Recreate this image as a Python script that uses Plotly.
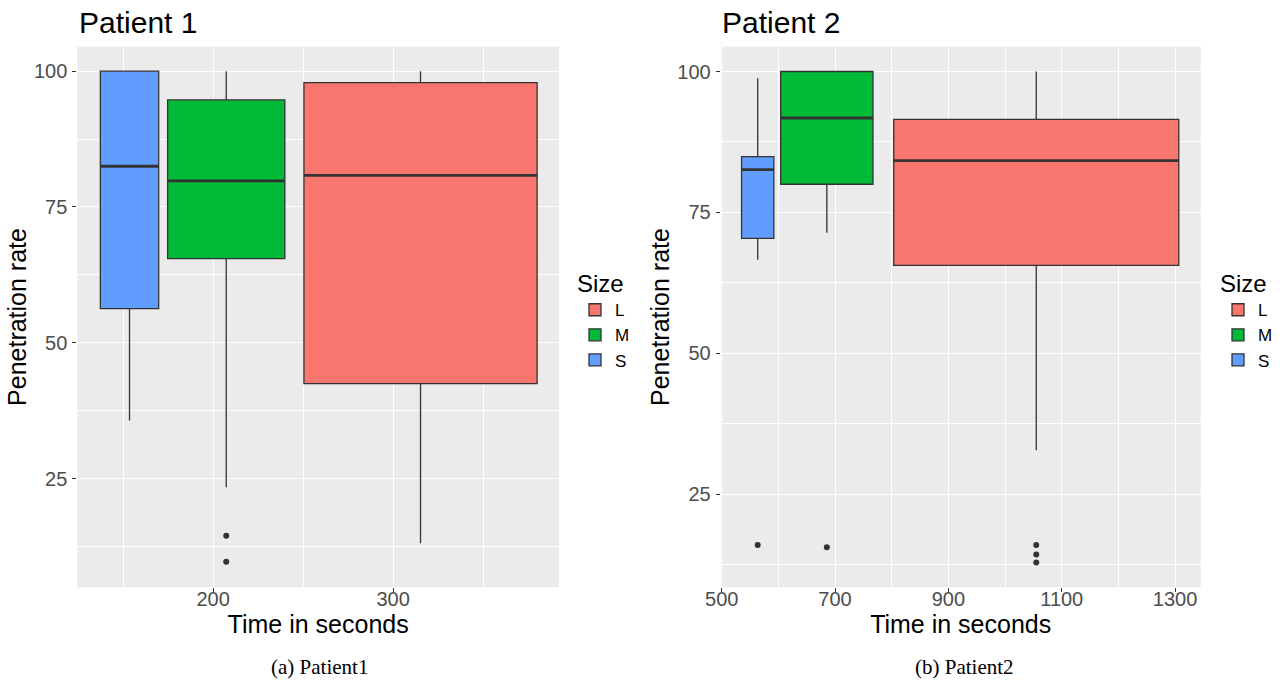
import plotly.graph_objects as go

# ---------------- data ----------------
sizes = ["L", "M", "S"]
colors = {"L": "#F8766D", "M": "#00BA38", "S": "#619CFF"}

# Patient 1
p1_time = [315.2, 207.3, 153.6]
p1_width = [129.5, 65.1, 32.4]
p1_q1 = [42.5, 65.5, 56.3]
p1_median = [80.8, 79.8, 82.5]
p1_q3 = [97.9, 94.7, 100.0]
p1_lower = [13.1, 23.4, 35.7]
p1_upper = [100.0, 100.0, 100.0]
p1_out_size = ["M", "M"]
p1_out_y = [14.5, 9.7]

# Patient 2
p2_time = [1055.0, 685.5, 563.5]
p2_width = [503.0, 162.8, 57.0]
p2_q1 = [65.6, 80.0, 70.4]
p2_median = [84.2, 91.75, 82.6]
p2_q3 = [91.5, 100.0, 84.9]
p2_lower = [32.8, 71.4, 66.6]
p2_upper = [100.0, 100.0, 98.8]
p2_out_size = ["L", "L", "L", "M", "S"]
p2_out_y = [16.0, 14.3, 12.9, 15.6, 16.0]

y_ticks = [25, 50, 75, 100]
x1_ticks = [200, 300]
x2_ticks = [500, 700, 900, 1100, 1300]

FONT = "Liberation Sans, Arial, sans-serif"
SERIF = "Liberation Serif, Times New Roman, serif"
EDGE = "#333333"

fig = go.Figure()


def add_panel(xa, ya, leg, times, widths, q1, med, q3, lo, up, out_size, out_y):
    for i, s in enumerate(sizes):
        fig.add_trace(go.Box(
            x=[times[i]], q1=[q1[i]], median=[med[i]], q3=[q3[i]],
            lowerfence=[lo[i]], upperfence=[up[i]],
            width=widths[i], whiskerwidth=0,
            fillcolor=colors[s], line=dict(color=EDGE, width=1.3),
            name=s, legend=leg, showlegend=True, boxpoints=False,
            xaxis=xa, yaxis=ya, hoverinfo="skip",
        ))
    for i, s in enumerate(sizes):
        fig.add_trace(go.Scatter(
            x=[times[i] - widths[i] / 2, times[i] + widths[i] / 2],
            y=[med[i], med[i]], mode="lines",
            line=dict(color=EDGE, width=2.8), showlegend=False,
            xaxis=xa, yaxis=ya, hoverinfo="skip",
        ))
    ox = [times[sizes.index(s)] for s in out_size]
    fig.add_trace(go.Scatter(
        x=ox, y=out_y, mode="markers",
        marker=dict(color=EDGE, size=6), showlegend=False,
        xaxis=xa, yaxis=ya, hoverinfo="skip",
    ))


add_panel("x", "y", "legend", p1_time, p1_width, p1_q1, p1_median, p1_q3,
          p1_lower, p1_upper, p1_out_size, p1_out_y)
add_panel("x2", "y2", "legend2", p2_time, p2_width, p2_q1, p2_median, p2_q3,
          p2_lower, p2_upper, p2_out_size, p2_out_y)

W, H = 1288, 688
ydom = [1 - 587.3 / H, 1 - 46.7 / H]

axis_common = dict(
    showgrid=True, gridcolor="white", gridwidth=1.2,
    zeroline=False, showline=False, automargin=False,
    ticks="outside", ticklen=4, tickcolor=EDGE, tickwidth=1,
    tickfont=dict(family=FONT, size=20, color="#4D4D4D"),
    title_font=dict(family=FONT, size=25, color="black"),
)
minor_common = dict(showgrid=True, gridcolor="white", gridwidth=0.6, ticks="")

legend_common = dict(
    xanchor="left", yanchor="top",
    title=dict(text="Size", font=dict(family=FONT, size=24, color="black")),
    font=dict(family=FONT, size=17, color="black"),
    bgcolor="rgba(0,0,0,0)", tracegroupgap=0, itemwidth=30,
)

fig.update_layout(
    width=W, height=H,
    margin=dict(l=0, r=0, t=0, b=0, autoexpand=False),
    paper_bgcolor="white", plot_bgcolor="#EBEBEB",
    boxmode="overlay",
    xaxis=dict(domain=[77.3 / W, 559.0 / W], range=[124.6, 392.1],
               tickvals=x1_ticks, minor=dict(dtick=50, tick0=0, **minor_common),
               ticklabelstandoff=-10,
               title=dict(text="Time in seconds", standoff=0), anchor="y", **axis_common),
    yaxis=dict(domain=ydom, range=[5.0, 104.5], tickvals=y_ticks,
               minor=dict(dtick=12.5, tick0=0, **minor_common),
               ticklabelstandoff=1,
               title=dict(text="Penetration rate", standoff=0), anchor="x", **axis_common),
    xaxis2=dict(domain=[720.7 / W, 1200.7 / W], range=[498.2, 1345.2],
                tickvals=x2_ticks, minor=dict(dtick=100, tick0=0, **minor_common),
                ticklabelstandoff=-10,
                title=dict(text="Time in seconds", standoff=0), anchor="y2", **axis_common),
    yaxis2=dict(domain=ydom, range=[8.5, 104.4], tickvals=y_ticks,
                minor=dict(dtick=12.5, tick0=0, **minor_common),
                ticklabelstandoff=1,
                title=dict(text="Penetration rate", standoff=0), anchor="x2", **axis_common),
    legend=dict(x=575 / W, y=1 - 261 / H, **legend_common),
    legend2=dict(x=1218 / W, y=1 - 261 / H, **legend_common),
    annotations=[
        dict(text="Patient 1", x=77 / W, y=1 - 22 / H, xref="paper", yref="paper",
             xanchor="left", yanchor="middle", showarrow=False,
             font=dict(family=FONT, size=30, color="black")),
        dict(text="Patient 2", x=720 / W, y=1 - 22 / H, xref="paper", yref="paper",
             xanchor="left", yanchor="middle", showarrow=False,
             font=dict(family=FONT, size=30, color="black")),
        dict(text="(a) Patient1", x=319 / W, y=1 - 667 / H, xref="paper", yref="paper",
             xanchor="center", yanchor="middle", showarrow=False,
             font=dict(family=SERIF, size=21, color="black")),
        dict(text="(b) Patient2", x=964 / W, y=1 - 667 / H, xref="paper", yref="paper",
             xanchor="center", yanchor="middle", showarrow=False,
             font=dict(family=SERIF, size=21, color="black")),
    ],
)

fig.write_html("out.html", config={"displayModeBar": False},
               post_script="document.body.style.margin='0';")
